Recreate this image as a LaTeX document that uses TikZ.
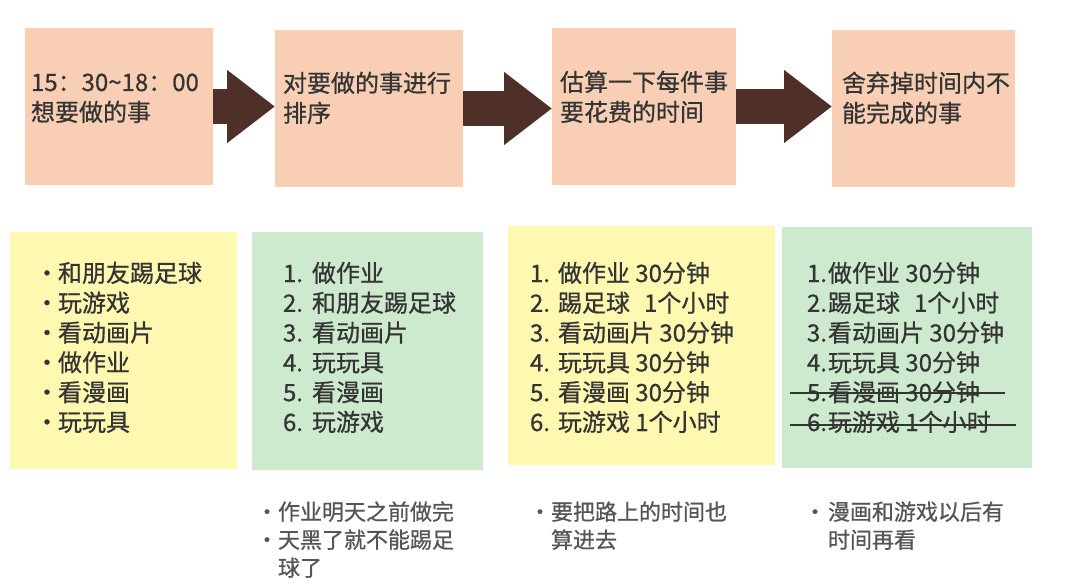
\documentclass[tikz,border=0pt]{standalone}
\usepackage{fontspec}
\setmainfont{Noto Sans CJK SC}[FakeBold=0.7]
\usetikzlibrary{positioning,arrows.meta}

\definecolor{peach}{RGB}{248,207,180}
\definecolor{notepad}{RGB}{255,248,176}
\definecolor{mint}{RGB}{206,234,206}
\definecolor{umber}{RGB}{78,48,41}
\definecolor{ink}{RGB}{52,52,52}
\definecolor{softink}{RGB}{85,85,85}

\begin{document}
\begin{tikzpicture}[
    x=1pt, y=-1pt,
    outer sep=0pt,
    stepbox/.style={rectangle, fill=peach, inner sep=0pt, minimum height=157pt, anchor=north west},
    listbox/.style={rectangle, inner sep=0pt, anchor=north west},
    big/.style={font=\fontsize{24}{30}\selectfont, text=ink, inner sep=0pt, anchor=base west},
    small/.style={font=\fontsize{22}{28}\selectfont, text=softink, inner sep=0pt, anchor=base west},
    flow/.style={draw=umber, line width=34pt, -{Triangle[width=70pt,length=48pt]}},
    strike/.style={draw=ink, line width=2.2pt}
]
    \useasboundingbox (0,0) rectangle (1074,586);

    % top row: the four steps
    \node [stepbox, minimum width=188pt] (t1) at (25,28) {};
    \node [stepbox, minimum width=188pt] (t2) at (275,30) {};
    \node [stepbox, minimum width=184pt] (t3) at (552,28) {};
    \node [stepbox, minimum width=183pt] (t4) at (832,30) {};

    \node [big] (t1a) at (31,91) {15：30\textasciitilde 18：00};
    \node [big] (t1b) at (31,121) {想要做的事};
    \node [big] (t2a) at (283,92) {对要做的事进行};
    \node [big] (t2b) at (283,122) {排序};
    \node [big] (t3a) at (560,91) {估算一下每件事};
    \node [big] (t3b) at (560,121) {要花费的时间};
    \node [big] (t4a) at (842,92) {舍弃掉时间内不};
    \node [big] (t4b) at (842,122) {能完成的事};

    \draw [flow] (t1.east) -- (t1.east -| t2.west);
    \draw [flow] (t2.east) -- (t2.east -| t3.west);
    \draw [flow] (t3.east) -- (t3.east -| t4.west);

    % bottom row: the lists
    \node [listbox, fill=notepad, minimum width=227pt, minimum height=237pt] (la) at (10,232) {};
    \node [listbox, fill=mint, minimum width=231pt, minimum height=238pt] (lb) at (252,232) {};
    \node [listbox, fill=notepad, minimum width=267pt, minimum height=239pt] (lc) at (508,226) {};
    \node [listbox, fill=mint, minimum width=250pt, minimum height=241pt] (ld) at (782,227) {};

    \foreach \txt [count=\i] in {和朋友踢足球, 玩游戏, 看动画片, 做作业, 看漫画, 玩玩具}
        \node [big] (a\i) at (35,{282+29.8*(\i-1)}) {\makebox[23pt][l]{•}\txt};

    \foreach \txt [count=\i] in {做作业, 和朋友踢足球, 看动画片, 玩玩具, 看漫画, 玩游戏}
        \node [big] (b\i) at (283,{282+29.8*(\i-1)}) {\makebox[29pt][l]{\i.}\txt};

    \foreach \txt [count=\i] in {{做作业 30分钟}, {踢足球\hspace{14pt}1个小时}, {看动画片 30分钟},
                                 {玩玩具 30分钟}, {看漫画 30分钟}, {玩游戏 1个小时}}
        \node [big] (c\i) at (530,{282+29.8*(\i-1)}) {\makebox[28pt][l]{\i.}\txt};

    \foreach \txt [count=\i] in {{做作业 30分钟}, {踢足球\hspace{14pt}1个小时}, {看动画片 30分钟},
                                 {玩玩具 30分钟}, {看漫画 30分钟}, {玩游戏 1个小时}}
        \node [big] (d\i) at (807,{282+29.8*(\i-1)}) {\makebox[21pt][l]{\i.}\txt};

    % dropped items
    \draw [strike] ([shift={(-17,-8)}]d5.base west) -- ([shift={(25,-8)}]d5.base east);
    \draw [strike] ([shift={(-17,-6)}]d6.base west) -- ([shift={(25,-6)}]d6.base east);

    % notes under the lists
    \node [small] (nb1) at (256,520) {\makebox[22pt][l]{•}作业明天之前做完};
    \node [small] (nb2) at (256,548) {\makebox[22pt][l]{•}天黑了就不能踢足};
    \node [small] (nb3) at (278,576) {球了};
    \node [small] (nc1) at (529,520) {\makebox[22pt][l]{•}要把路上的时间也};
    \node [small] (nc2) at (551,548) {算进去};
    \node [small] (nd1) at (804,520) {\makebox[24pt][l]{•}漫画和游戏以后有};
    \node [small] (nd2) at (828,548) {时间再看};
\end{tikzpicture}
\end{document}
